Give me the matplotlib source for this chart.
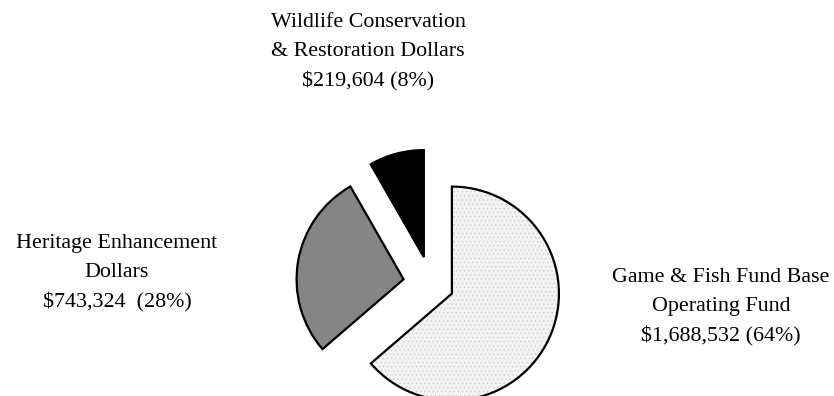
import matplotlib
matplotlib.use("Agg")
import matplotlib.pyplot as plt

# Data
categories = ["Game & Fish Fund Base\nOperating Fund",
              "Heritage Enhancement\nDollars",
              "Wildlife Conservation\n& Restoration Dollars"]
values = [1688532, 743324, 219604]
value_labels = ["$1,688,532 (64%)", "$743,324  (28%)", "$219,604 (8%)"]

W, H = 834, 396
fig = plt.figure(figsize=(W / 100, H / 100), dpi=100)
ax = fig.add_axes([0, 0, 1, 1])

colors = ["#f3f3f3", "#858585", "#000000"]
r = 107
explode = [0.215 * r, 0.26 * r, 0.26 * r]
cx, cy = 431, H - 284

wedges, _ = ax.pie(values, colors=colors, explode=explode, startangle=90,
                   counterclock=False, center=(cx, cy), radius=r,
                   wedgeprops=dict(edgecolor="black", linewidth=1.6))
wedges[0].set_hatch("....")
wedges[0].set_hatch_linewidth(0.3)
wedges[0]._hatch_color = (0.75, 0.75, 0.75, 1)

ax.set_xlim(0, W)
ax.set_ylim(0, H)
ax.set_aspect("equal")
ax.axis("off")

font = dict(family="Liberation Serif", fontsize=15.8, ha="center", va="center",
            multialignment="center", linespacing=1.7)
label_pos = [(721, 307), (117, 273), (368, 52)]
for cat, vl, (x, y) in zip(categories, value_labels, label_pos):
    ax.text(x, H - y, cat + "\n" + vl, **font)

fig.savefig("out.png", dpi=100)
